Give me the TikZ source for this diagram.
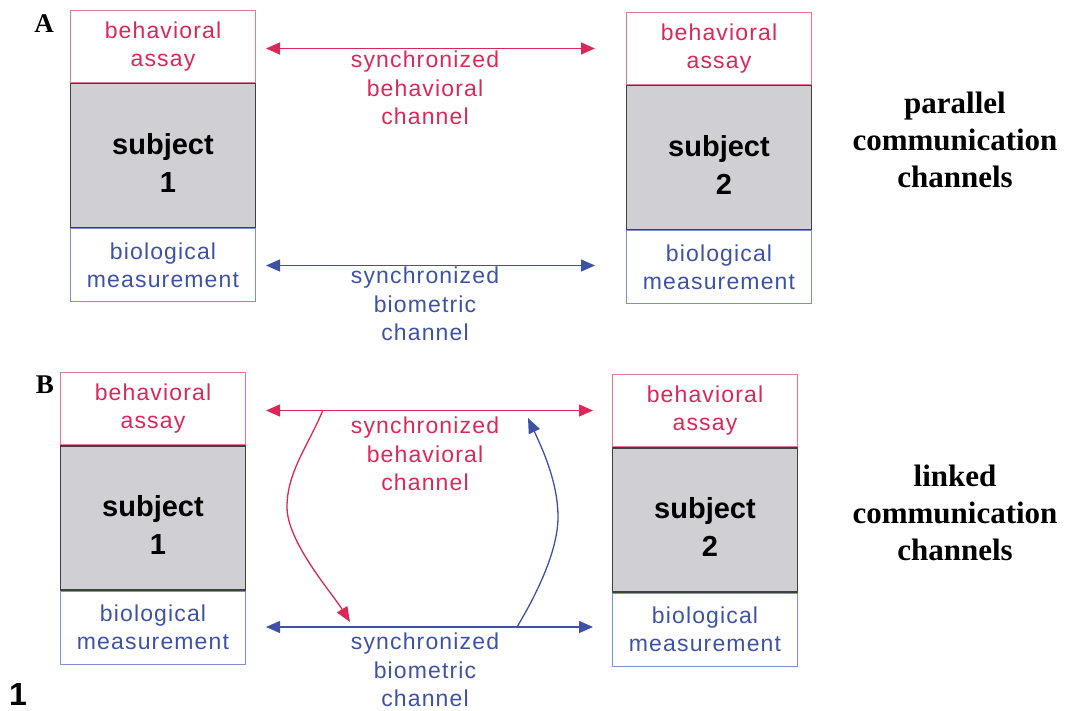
\documentclass[tikz,border=0pt]{standalone}
\usepackage{fontspec}
\setmainfont{Liberation Serif}
\newfontfamily\lblfont[LetterSpace=5]{Liberation Sans}
\newfontfamily\subjfont{Liberation Sans}
\usepackage{xcolor}
\usepackage{tikz}
\usetikzlibrary{arrows.meta, positioning}
\definecolor{chanred}{RGB}{218,40,88}
\definecolor{assayedge}{RGB}{232,120,145}
\definecolor{chanblue}{RGB}{62,82,165}
\definecolor{bioedge}{RGB}{125,145,210}
\definecolor{subjgray}{RGB}{208,208,212}
\tikzstyle{assay} = [rectangle, draw=assayedge, line width=1pt, minimum width=185pt, minimum height=72pt, inner sep=0pt, align=center, text=chanred, font=\lblfont\fontsize{23}{28}\selectfont]
\tikzstyle{subject} = [rectangle, draw=black!75, fill=subjgray, line width=1.5pt, minimum width=185pt, minimum height=144pt, inner sep=0pt, align=center, font=\subjfont\bfseries\fontsize{29}{38}\selectfont]
\tikzstyle{biomeas} = [rectangle, draw=bioedge, line width=1pt, minimum width=185pt, minimum height=73pt, inner sep=0pt, align=center, text=chanblue, font=\lblfont\fontsize{23}{28}\selectfont]
\tikzstyle{chanlabel} = [align=center, inner sep=0pt, font=\lblfont\fontsize{23}{28.5}\selectfont]
\tikzstyle{sidetext} = [align=center, inner sep=0pt, font=\bfseries\fontsize{31}{37}\selectfont]
\tikzstyle{panel} = [inner sep=0pt, font=\bfseries\fontsize{27}{27}\selectfont]
\tikzstyle{redarrow} = [chanred, line width=1.3pt, {Triangle[length=14pt,width=12pt]}-{Triangle[length=14pt,width=12pt]}]
\tikzstyle{bluearrow} = [chanblue, line width=1.3pt, {Triangle[length=14pt,width=12pt]}-{Triangle[length=14pt,width=12pt]}]
\tikzstyle{crossarrow} = [line width=1.3pt, -{Triangle[length=15pt,width=12pt]}]

\begin{document}
\begin{tikzpicture}[x=1pt, y=-1pt]
    \useasboundingbox (0,0) rectangle (1066,711);

    % Panel A: parallel channels
    \node[panel] (labA) at (44,24) {A};
    \node[assay, anchor=north west] (assayA1) at (70,10) {behavioral\\assay};
    \node[subject, below=0pt of assayA1] (subjA1) {\rule{0pt}{36pt}subject\\\hspace*{10pt}1};
    \node[biomeas, below=0pt of subjA1] (bioA1) {biological\\measurement};

    \node[assay, anchor=north west] (assayA2) at (626,12) {behavioral\\assay};
    \node[subject, below=0pt of assayA2] (subjA2) {\rule{0pt}{36pt}subject\\\hspace*{10pt}2};
    \node[biomeas, below=0pt of subjA2] (bioA2) {biological\\measurement};

    \draw[redarrow] ([xshift=10pt]assayA1.east |- assayA2.west) -- ([xshift=-31pt]assayA2.west);
    \draw[bluearrow] ([xshift=10pt]bioA1.east) -- ([xshift=-31pt]bioA2.west |- bioA1.east);
    \node[chanlabel, text=chanred] (behA) at (425,88) {synchronized\\behavioral\\channel};
    \node[chanlabel, text=chanblue] (bioChA) at (425,304) {synchronized\\biometric\\channel};

    \node[sidetext] (parA) at (955,140) {parallel\\communication\\channels};

    % Panel B: linked channels
    \node[panel] (labB) at (45,385) {B};
    \node[assay, anchor=north west] (assayB1) at (60,372) {behavioral\\assay};
    \node[subject, below=0pt of assayB1] (subjB1) {\rule{0pt}{36pt}subject\\\hspace*{10pt}1};
    \node[biomeas, below=0pt of subjB1] (bioB1) {biological\\measurement};

    \node[assay, anchor=north west] (assayB2) at (612,374) {behavioral\\assay};
    \node[subject, below=0pt of assayB2] (subjB2) {\rule{0pt}{36pt}subject\\\hspace*{10pt}2};
    \node[biomeas, below=0pt of subjB2] (bioB2) {biological\\measurement};

    \draw[redarrow] ([xshift=20pt]assayB1.east |- assayB2.west) -- ([xshift=-19pt]assayB2.west);
    \draw[bluearrow] ([xshift=20pt]bioB1.east |- 0,627) -- ([xshift=-19pt]bioB2.west |- 0,627);
    \node[chanlabel, text=chanred] (behB) at (425,454) {synchronized\\behavioral\\channel};
    \node[chanlabel, text=chanblue] (bioChB) at (425,670) {synchronized\\biometric\\channel};

    % behavioral -> biometric and back
    \coordinate (redfrom) at (323,410);
    \coordinate (redmid) at (287,507);
    \coordinate (redto) at (350,622);
    \coordinate (bluefrom) at (517,627);
    \coordinate (bluemid) at (558,517);
    \coordinate (blueto) at (528,418);
    \draw[crossarrow, chanred] (redfrom) .. controls (308,446) and (287,472) .. (redmid)
        .. controls (287,542) and (332,593) .. (redto);
    \draw[crossarrow, chanblue] (bluefrom) .. controls (535,597) and (558,552) .. (bluemid)
        .. controls (558,482) and (542,448) .. (blueto);

    \node[sidetext] (linkB) at (955,513) {linked\\communication\\channels};

    \node[font=\subjfont\bfseries\fontsize{32}{32}\selectfont] (figno) at (18,694) {1};
\end{tikzpicture}
\end{document}
